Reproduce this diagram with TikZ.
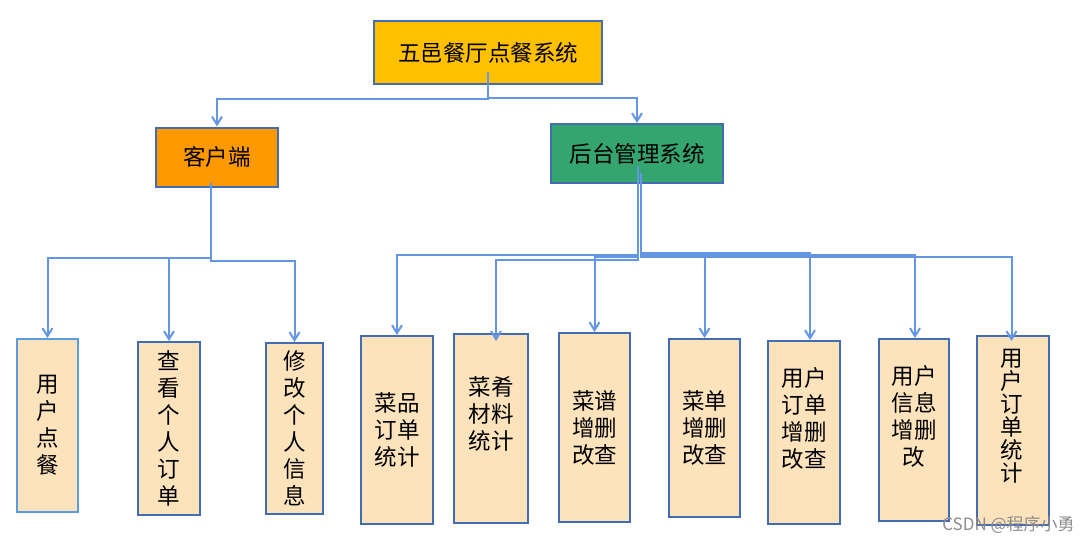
\documentclass[tikz,border=0pt]{standalone}
\usepackage{fontspec}
\newfontfamily\cjk{Noto Sans CJK SC}
\usetikzlibrary{arrows.meta}
\definecolor{linkblue}{RGB}{101,150,230}
\definecolor{edgeblue}{RGB}{68,108,180}
\definecolor{lightedge}{RGB}{91,155,225}
\definecolor{gold}{RGB}{255,192,0}
\definecolor{orangebox}{RGB}{255,153,0}
\definecolor{greenbox}{RGB}{52,165,110}
\definecolor{leaffill}{RGB}{253,227,188}
\tikzset{
  box/.style={draw=edgeblue, line width=2pt, inner sep=0pt, font=\cjk\fontsize{22.5}{27}\selectfont},
  leaf/.style={box, fill=leaffill, align=center},
  leaftxt/.style={inner sep=0pt, align=center, font=\cjk\fontsize{22.5}{27}\selectfont},
  link/.style={draw=linkblue, line width=2pt, -{Straight Barb[length=8pt,width=10pt]}}
}

\begin{document}
\begin{tikzpicture}[x=1pt, y=-1pt]
		%%%%% START %%%%%
		\useasboundingbox (0,0) rectangle (1091,543);
		
		% top and second level
		\node[box, fill=gold, minimum width=228, minimum height=63] (sys) at (488,52.5) {五邑餐厅点餐系统};
		\node[box, fill=orangebox, minimum width=122, minimum height=59] (kh) at (217,157) {客户端\hspace{20pt}};
		\node[box, fill=greenbox, minimum width=172, minimum height=59] (ht) at (637,153.5) {后台管理系统};
		
		% customer side
		\node[leaf, draw=lightedge, minimum width=61, minimum height=173] (yhdc) at (47.5,425.5) {用\\户\\点\\餐};
		\node[leaf, minimum width=62, minimum height=173] (ckdd) at (169,428.5) {查\\看\\个\\人\\订\\单};
		\node[leaf, minimum width=57, minimum height=171] (xgxx) at (294.5,428.5) {修\\改\\个\\人\\信\\息};
		
		% back office
		\node[leaf, minimum width=72, minimum height=188] (cpdd) at (397,430) {菜品\\订单\\统计};
		\node[leaf, minimum width=74, minimum height=189] (clsj) at (491,428.5) {};
		\node[leaftxt] (clsj-t) at (491,414) {菜肴\\材料\\统计};
		\node[leaf, minimum width=71, minimum height=189] (cpzs) at (594.5,427.5) {菜谱\\增删\\改查};
		\node[leaf, minimum width=71, minimum height=178] (cdzs) at (704.5,428) {菜单\\增删\\改查};
		\node[leaf, minimum width=72, minimum height=183] (yddz) at (804,432.5) {};
		\node[leaftxt] (yddz-t) at (804,418) {用户\\订单\\增删\\改查};
		\node[leaf, minimum width=70, minimum height=182] (yxxz) at (914,430) {};
		\node[leaftxt] (yxxz-t) at (914,416) {用户\\信息\\增删\\改};
		\node[leaf, minimum width=72, minimum height=189] (ddtj) at (1013,430.5) {};
		\node[leaftxt, font=\cjk\fontsize{22.5}{23}\selectfont] (ddtj-t) at (1012,416.5) {用\\户\\订\\单\\统\\计};
		
		% connectors
		\draw[link] ([yshift=13pt]sys.south) -- ++(0,27) -| (kh.north);
		\draw[link] ([yshift=13pt]sys.south) -- ++(0,26) -| (ht.north);
		
		\draw[link] ([xshift=-6pt,yshift=5pt]kh.south) -- ++(0,75.5) -| (yhdc.north);
		\draw[link] ([xshift=-6pt,yshift=5pt]kh.south) -- ++(0,75.5) -| (ckdd.north);
		\draw[link] ([xshift=-6pt,yshift=5pt]kh.south) -- ++(0,78) -| (xgxx.north);
		
		\draw[link] ([xshift=1pt,yshift=18pt]ht.south) -- ++(0,89) -| (cpdd.north);
		\draw[link] ([xshift=1pt,yshift=18pt]ht.south) -- ++(0,94) -| ([xshift=5pt,yshift=-8pt]clsj.north);
		\draw[link] ([xshift=1pt,yshift=18pt]ht.south) -- ++(0,91) -| (cpzs.north);
		\draw[link] ([xshift=4pt,yshift=11pt]ht.south) -- ++(0,81) -| (cdzs.north);
		\draw[link] ([xshift=4pt,yshift=11pt]ht.south) -- ++(0,79.5) -| ([xshift=6pt]yddz.north);
		\draw[link] ([xshift=4pt,yshift=11pt]ht.south) -- ++(0,81.5) -| ([xshift=1pt]yxxz.north);
		\draw[link] ([xshift=4pt,yshift=11pt]ht.south) -- ++(0,84) -| ([xshift=-1.5pt,yshift=-6pt]ddtj.north);
		
		% watermark
		\node[text=black!45, inner sep=0pt, font=\cjk\fontsize{17}{17}\selectfont] (mark) at (1008.5,525) {CSDN @程序小勇};
		%%%%% END %%%%%
\end{tikzpicture}
\end{document}
